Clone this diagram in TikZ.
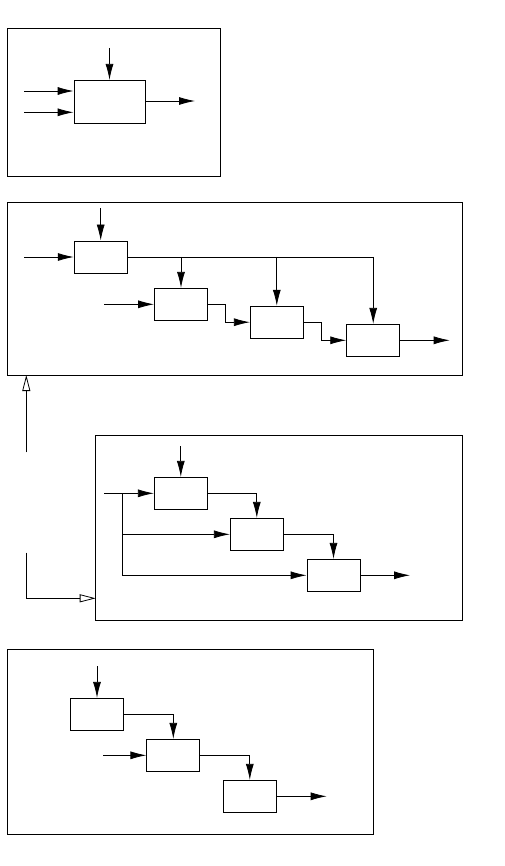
\documentclass[tikz,border=0pt]{standalone}
\usetikzlibrary{arrows.meta,positioning}

\tikzset{
    blk/.style={draw, line width=0.8pt, minimum width=53pt, minimum height=32pt, inner sep=0pt},
    bigblk/.style={blk, minimum width=71pt, minimum height=43pt},
    flow/.style={line width=0.8pt, -{Latex[length=16pt,width=8pt]}},
    link/.style={line width=0.8pt},
    frame/.style={line width=0.8pt},
    hollow/.style={line width=0.8pt, -{Triangle[open,length=16pt,width=8pt]}}
}

\begin{document}
\begin{tikzpicture}[x=1pt, y=-1pt]

    \useasboundingbox (0,0) rectangle (505,866);

    % Frames
    \draw[frame] (7,28) rectangle (220,176);
    \draw[frame] (7,202) rectangle (462.5,375);
    \draw[frame] (95.7,435.7) rectangle (462.5,620.5);
    \draw[frame] (7,649.5) rectangle (373.3,834.3);

    % Panel 1: single block
    \node[bigblk] (s) at (109.5,101.8) {};
    \coordinate (sTop) at (109.5,48);
    \coordinate (sInA) at (24,91);
    \coordinate (sInB) at (24,112.3);
    \coordinate (sOut) at (195,101);
    \draw[flow] (sTop) -- (s.north);
    \draw[flow] (sInA) -- (sInA -| s.west);
    \draw[flow] (sInB) -- (sInB -| s.west);
    \draw[flow] (sOut -| s.east) -- (sOut);

    % Panel 2: one source feeding a chain
    \node[blk] (a) at (100.7,257) {};
    \node[blk] (b) at (181,304.3) {};
    \node[blk] (c) at (276.8,322.2) {};
    \node[blk] (d) at (373.2,340.3) {};
    \coordinate (aTop) at (100.7,208.3);
    \coordinate (aIn) at (24,257);
    \coordinate (bIn) at (104.3,304.3);
    \coordinate (dOut) at (449.7,340.3);
    \coordinate (jb) at (a.east -| b.north);
    \coordinate (jc) at (a.east -| c.north);
    \coordinate (jd) at (a.east -| d.north);
    \draw[flow] (aTop) -- (a.north);
    \draw[flow] (aIn) -- (a.west);
    \draw[flow] (bIn) -- (b.west);
    \draw[link] (a.east) -- (jd);
    \foreach \n in {b,c,d} {
        \draw[flow] (j\n) -- (\n.north);
    }
    \draw[flow] (b.east) -- ++(17.6,0) |- (c.west);
    \draw[flow] (c.east) -- ++(18,0) |- (d.west);
    \draw[flow] (d.east) -- (dOut);

    % Links between panels
    \coordinate (upFrom) at (26.3,452.3);
    \coordinate (upTo) at (26.3,375);
    \coordinate (rtFrom) at (26.3,552.7);
    \coordinate (rtTo) at (95.7,598.3);
    \draw[hollow] (upFrom) -- (upTo);
    \draw[hollow] (rtFrom) |- (rtTo);

    % Panel 3: one input split over a chain
    \node[blk] (e) at (180.8,493.3) {};
    \node[blk] (f) at (256.8,534.3) {};
    \node[blk] (g) at (333.5,575.3) {};
    \coordinate (eTop) at (180.8,446);
    \coordinate (eIn) at (104,493.3);
    \coordinate (br) at (122.3,493.3);
    \coordinate (gOut) at (410,575.3);
    \draw[flow] (eTop) -- (e.north);
    \draw[flow] (eIn) -- (e.west);
    \draw[flow] (br) |- (f.west);
    \draw[flow] (br) |- (g.west);
    \draw[flow] (e.east) -| (f.north);
    \draw[flow] (f.east) -| (g.north);
    \draw[flow] (g.east) -- (gOut);

    % Panel 4: plain chain
    \node[blk] (h) at (97,714.3) {};
    \node[blk] (i) at (173.3,755.3) {};
    \node[blk] (k) at (249.8,796.3) {};
    \coordinate (hTop) at (97,666);
    \coordinate (iIn) at (103.3,755.3);
    \coordinate (kOut) at (326.7,796.3);
    \draw[flow] (hTop) -- (h.north);
    \draw[flow] (iIn) -- (i.west);
    \draw[flow] (h.east) -| (i.north);
    \draw[flow] (i.east) -| (k.north);
    \draw[flow] (k.east) -- (kOut);

\end{tikzpicture}
\end{document}
